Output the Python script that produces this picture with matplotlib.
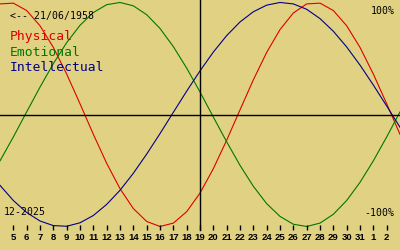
import matplotlib
matplotlib.use("Agg")
import matplotlib.pyplot as plt

# biorhythm values in percent, one per day (4 dec .. 3 jan)
days = [4, 5, 6, 7, 8, 9, 10, 11, 12, 13, 14, 15, 16, 17, 18, 19,
        20, 21, 22, 23, 24, 25, 26, 27, 28, 29, 30, 31, 32, 33, 34]
physical = [98.7, 99.4, 92.8, 79.2, 59.9, 36.1, 9.6, -17.7, -43.6, -66.2,
            -84.0, -95.5, -100.0, -97.0, -86.8, -70.2, -48.4, -23.0, 4.1,
            30.9, 55.4, 75.8, 90.6, 98.7, 99.4, 92.8, 79.2, 59.9, 36.1, 9.6,
            -17.7]
emotional = [-41.4, -20.1, 2.3, 24.4, 45.4, 64.1, 79.6, 91.0, 98.0, 100.0,
             97.0, 89.1, 76.8, 60.6, 41.4, 20.1, -2.3, -24.4, -45.4, -64.1,
             -79.6, -91.0, -98.0, -100.0, -97.0, -89.1, -76.8, -60.6, -41.4,
             -20.1, 2.3]
intellectual = [-63.3, -76.8, -87.5, -95.1, -99.2, -99.8, -96.7, -90.2,
                -80.3, -67.7, -52.5, -35.4, -17.1, 1.9, 20.8, 38.9, 55.7,
                70.4, 82.6, 91.7, 97.6, 100.0, 98.7, 93.9, 85.6, 74.3, 60.3,
                44.1, 26.3, 7.6, -11.4]

tick_days = list(range(5, 34))
tick_labels = [str(d) for d in range(5, 32)] + ["1", "2"]
today = 19
birth = "<-- 21/06/1958"
month = "12-2025"

bg = "#e1d283"
mono = ["DejaVu Sans Mono"]

fig = plt.figure(figsize=(4, 2.5), dpi=100, facecolor=bg)
ax = fig.add_axes([0, 0, 1, 1])
ax.set_facecolor(bg)
ax.set_xlim(4, 34)
ax.set_ylim(-121.0, 102.2)
ax.axis("off")

ax.plot(days, physical, color="#dd0000", lw=0.8)
ax.plot(days, emotional, color="#007700", lw=0.8)
ax.plot(days, intellectual, color="#000088", lw=0.8)

# axes cross
ax.axhline(-0.5, color="black", lw=1)
ax.axvline(today, ymin=0.08, ymax=1, color="black", lw=1)

# day ticks
ax.vlines(tick_days, -98.5, -103.5, color="black", lw=1)
for d, lab in zip(tick_days, tick_labels):
    ax.text(d, -109.5, lab, ha="center", va="center", fontsize=6.8,
            fontweight="bold", family=["Liberation Sans", "DejaVu Sans"])

ax.text(4.75, 88.0, birth, ha="left", va="center", fontsize=7.1, family=mono)
ax.text(4.75, 70.0, "Physical", ha="left", va="center", fontsize=9.4,
        family=mono, color="#dd0000")
ax.text(4.75, 55.5, "Emotional", ha="left", va="center", fontsize=9.4,
        family=mono, color="#007700")
ax.text(4.75, 42.0, "Intellectual", ha="left", va="center", fontsize=9.4,
        family=mono, color="#000088")
ax.text(4.3, -87.0, month, ha="left", va="center", fontsize=7.1, family=mono)
ax.text(33.6, 92.0, "100%", ha="right", va="center", fontsize=7.1, family=mono)
ax.text(33.6, -88.0, "-100%", ha="right", va="center", fontsize=7.1, family=mono)

fig.savefig("out.png", dpi=100, facecolor=bg)
